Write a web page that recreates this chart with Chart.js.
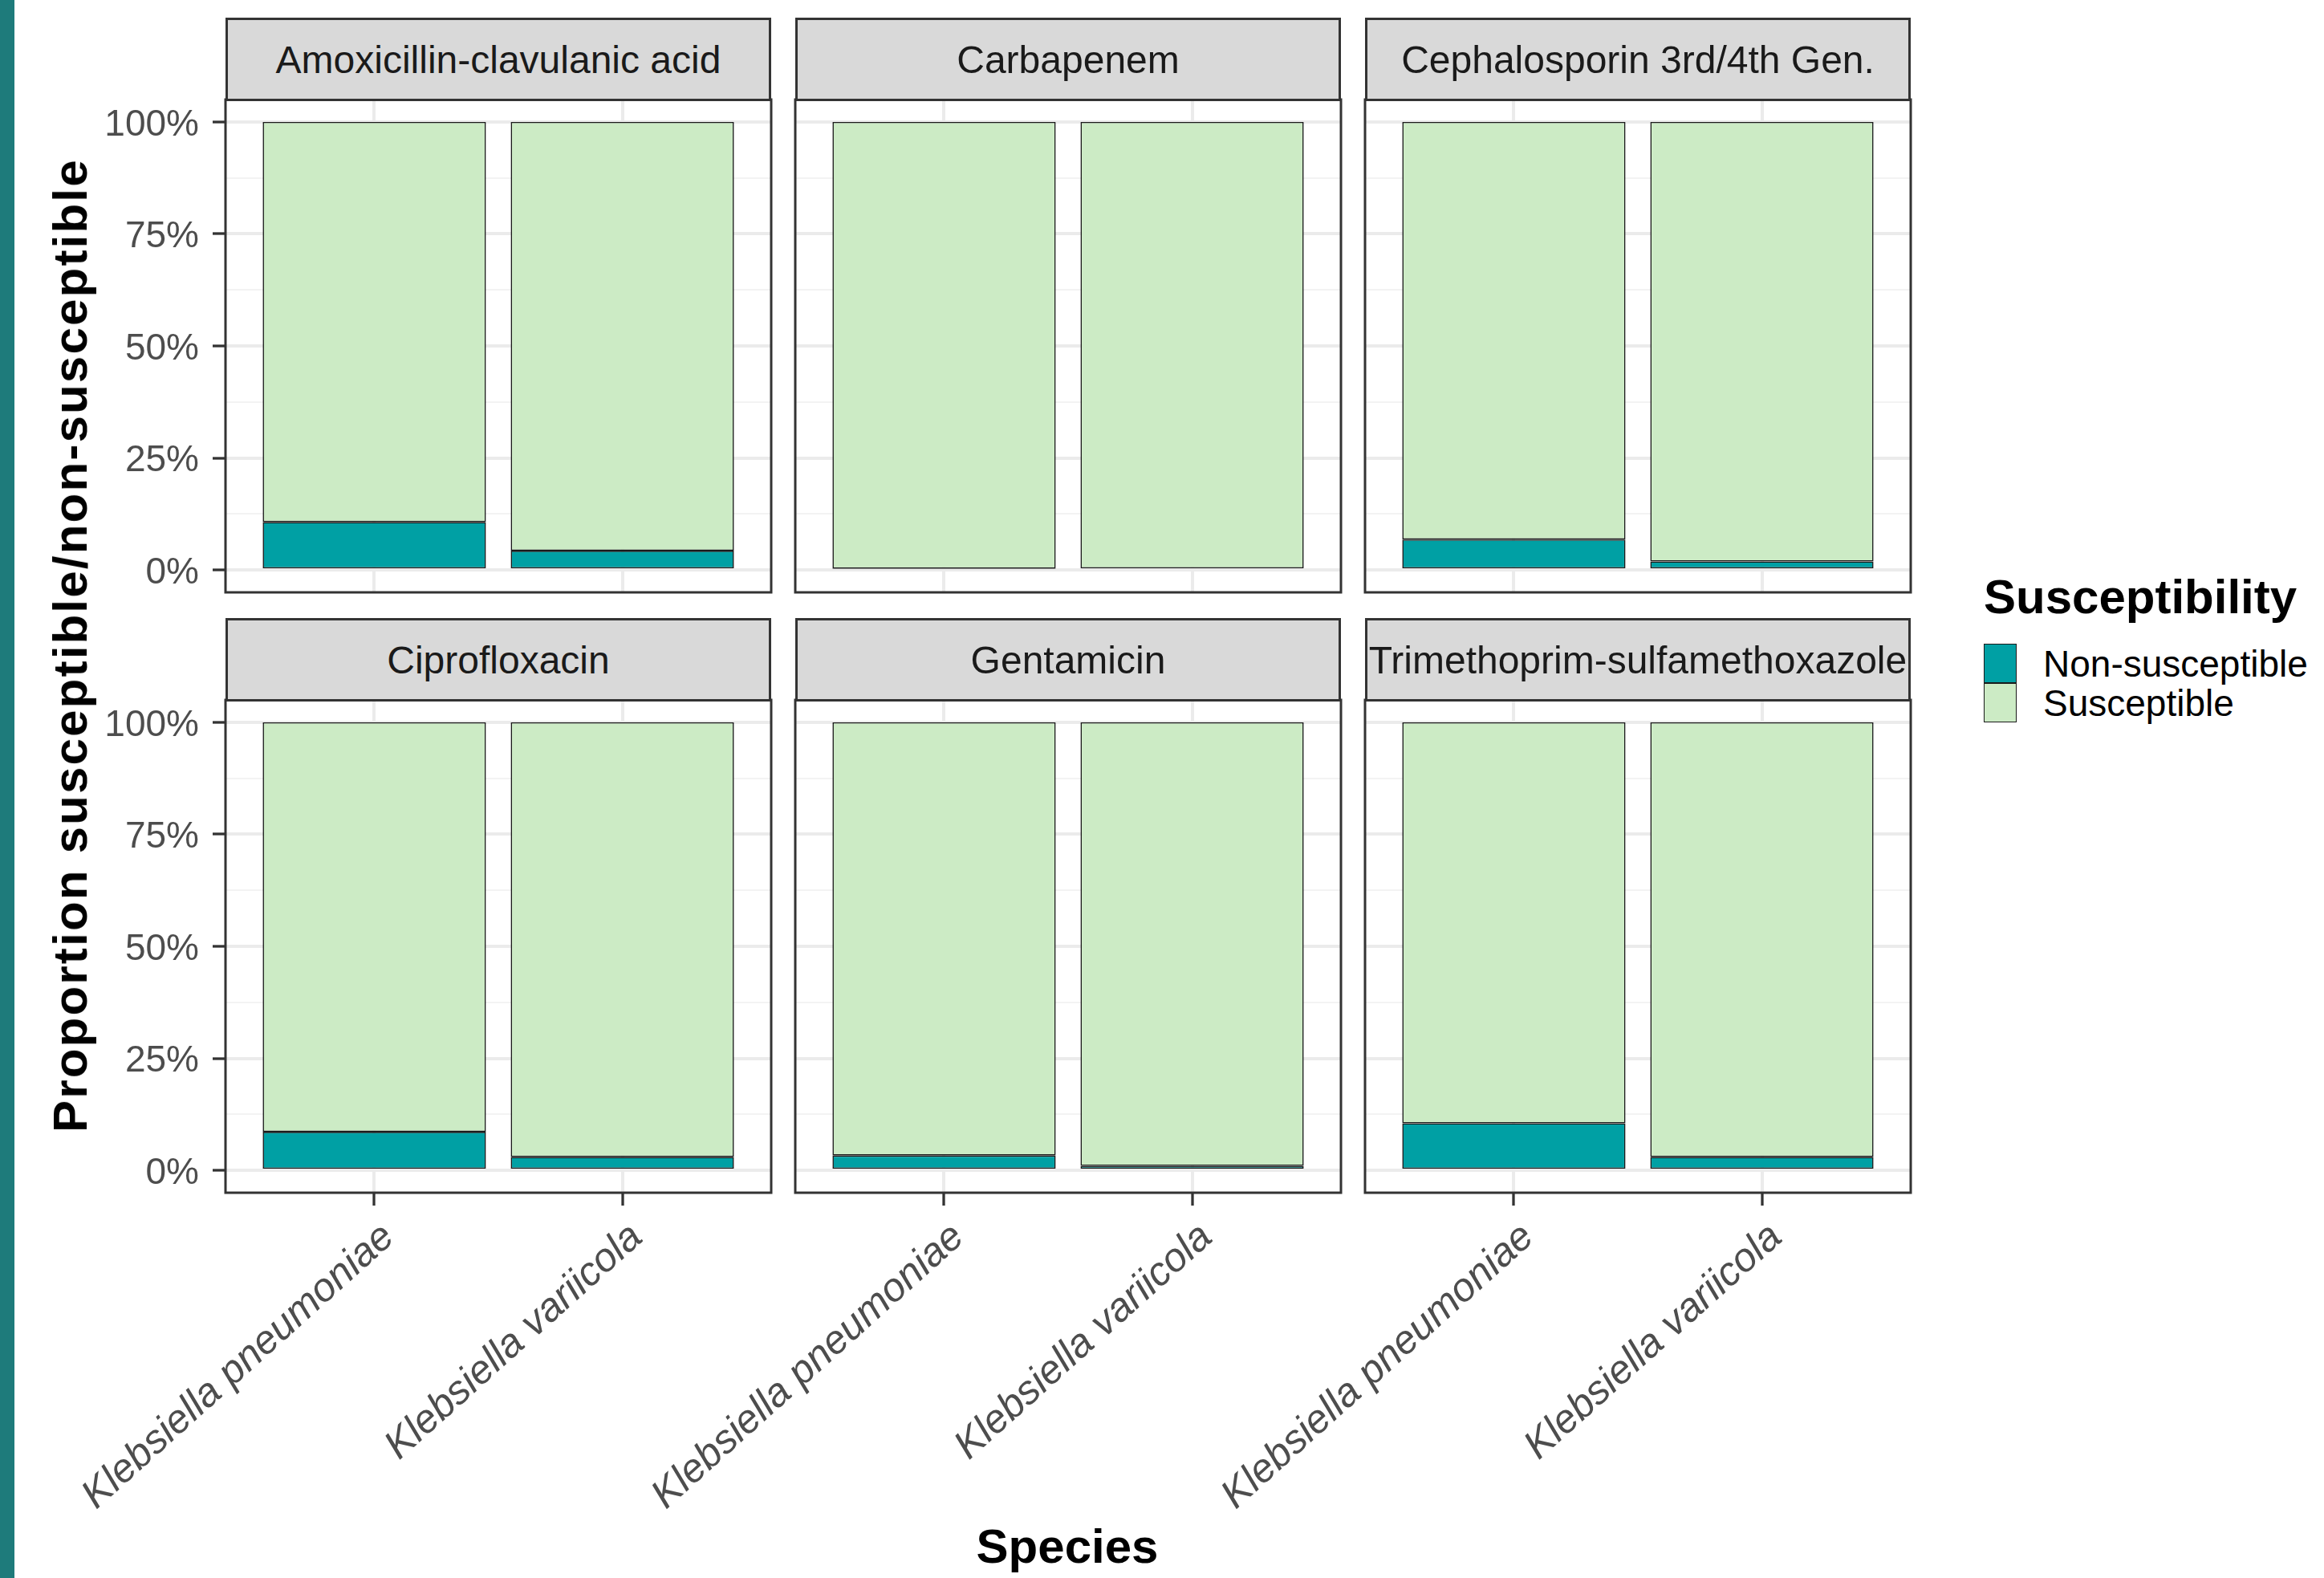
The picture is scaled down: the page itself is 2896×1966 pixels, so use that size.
<!DOCTYPE html>
<html lang="en">
<head>
<meta charset="UTF-8" />
<title>Susceptibility by species and antibiotic</title>
<script src="https://cdn.jsdelivr.net/npm/chart.js"></script>
<style>
  body { margin: 0; width: 2896px; height: 1966px; background: #fff; position: relative; overflow: hidden;
         font-family: "Liberation Sans", Arial, sans-serif; }
  canvas { position: absolute; }
  #edge { position: absolute; left: 0; top: 0; width: 18px; height: 1966px; background: #1E7B7B; z-index: 5; }
  .strip { position: absolute; box-sizing: border-box; background: #D9D9D9; border: 3px solid #333;
           display: flex; align-items: center; justify-content: center; font-size: 48px; color: #1A1A1A;
           white-space: nowrap; z-index: 2; }
  .title { position: absolute; font-weight: bold; font-size: 60px; line-height: 60px; color: #000; white-space: nowrap; z-index: 3; }
  #ytitle { left: 88px; top: 804px; transform: translate(-50%, -50%) rotate(-90deg); letter-spacing: 2.2px; }
  #xtitle { left: 1330px; top: 1897px; transform: translateX(-50%); }
  #legend { position: absolute; left: 2472px; top: 714px; z-index: 3; }
  #legend .title { position: static; margin-bottom: 28px; }
  .key-row { display: flex; align-items: center; height: 49px; }
  .key { box-sizing: border-box; width: 41px; height: 49px; border: 1.5px solid #1a1a1a; margin-right: 33px; }
  .key-label { font-size: 46px; color: #000; white-space: nowrap; }
</style>
</head>
<body>
<div id="edge"></div>
<div id="ytitle" class="title">Proportion susceptible/non-susceptible</div>
<div id="xtitle" class="title">Species</div>
<div id="legend"><div class="title">Susceptibility</div></div>

<script>
  // facet panels (antibiotics) and x categories
  const drugs = [
    'Amoxicillin-clavulanic acid', 'Carbapenem', 'Cephalosporin 3rd/4th Gen.',
    'Ciprofloxacin', 'Gentamicin', 'Trimethoprim-sulfamethoxazole'
  ];
  const species = ['Klebsiella pneumoniae', 'Klebsiella variicola'];

  // percent of isolates, one value per drug
  const nonSuscPneumoniae = [10.7, 0.3, 6.8, 8.6, 3.3, 10.5];
  const nonSuscVariicola  = [4.3, 0.0, 1.9, 3.0, 1.0, 3.0];
  const suscPneumoniae    = [89.3, 99.7, 93.2, 91.4, 96.7, 89.5];
  const suscVariicola     = [95.7, 100.0, 98.1, 97.0, 99.0, 97.0];

  const seriesNames = ['Non-susceptible', 'Susceptible'];
  const seriesColors = ['#00A0A4', '#CCEBC5'];

  const yTicks = [0, 25, 50, 75, 100];
  const yMinorTicks = [12.5, 37.5, 62.5, 87.5];

  // layout (px)
  const panelLeft = [281, 991, 1701];
  const panelTop = [124, 872];
  const panelW = 680, panelH = 614, stripH = 102;
  const yAxisW = 300, xAxisH = 440, padX = 4, padY = 52;
  const FONT = '"Liberation Sans", Arial, sans-serif';

  const panelBorder = {
    id: 'panelBorder',
    afterDraw(chart) {
      const { ctx, chartArea: a } = chart;
      ctx.save();
      ctx.strokeStyle = '#333333';
      ctx.lineWidth = 3;
      ctx.strokeRect(a.left, a.top, a.right - a.left, a.bottom - a.top);
      ctx.restore();
    }
  };

  const isMajor = v => yTicks.includes(v);

  drugs.forEach((drug, i) => {
    const r = Math.floor(i / 3), c = i % 3;
    const bottomRow = r === 1, leftCol = c === 0;

    const strip = document.createElement('div');
    strip.className = 'strip';
    strip.textContent = drug;
    Object.assign(strip.style, {
      left: panelLeft[c] + 'px', top: (panelTop[r] - stripH) + 'px',
      width: panelW + 'px', height: (stripH + 2) + 'px'
    });
    document.body.appendChild(strip);

    const cv = document.createElement('canvas');
    cv.width = yAxisW + panelW + 2 * padX;
    cv.height = panelH + (bottomRow ? xAxisH : 0) + 2 * padY;
    cv.style.left = (panelLeft[c] - yAxisW - padX) + 'px';
    cv.style.top = (panelTop[r] - padY) + 'px';
    document.body.insertBefore(cv, document.body.firstChild);

    new Chart(cv, {
      type: 'bar',
      data: {
        datasets: [
          { label: seriesNames[0], backgroundColor: seriesColors[0],
            data: [{ x: 1, y: nonSuscPneumoniae[i] }, { x: 2, y: nonSuscVariicola[i] }] },
          { label: seriesNames[1], backgroundColor: seriesColors[1],
            data: [{ x: 1, y: suscPneumoniae[i] }, { x: 2, y: suscVariicola[i] }] }
        ]
      },
      options: {
        responsive: false,
        animation: false,
        layout: { padding: { left: padX, right: padX, top: padY, bottom: padY } },
        datasets: {
          bar: { barPercentage: 0.9, categoryPercentage: 1, borderColor: '#1a1a1a',
                 borderWidth: 1.6, borderSkipped: false }
        },
        plugins: { legend: { display: false }, tooltip: { enabled: false } },
        scales: {
          x: {
            type: 'linear', min: 0.4, max: 2.6, offset: false, stacked: true,
            afterBuildTicks: s => { s.ticks = species.map((_, k) => ({ value: k + 1 })); },
            afterFit: s => { s.height = bottomRow ? xAxisH : 0; },
            border: { display: false },
            grid: { offset: false, color: '#EBEBEB', lineWidth: 4, drawTicks: bottomRow,
                    tickLength: 16, tickWidth: 3.3, tickColor: '#333333' },
            ticks: { display: bottomRow, autoSkip: false, minRotation: 42, maxRotation: 42,
                     padding: 10, labelOffset: 18, color: '#4D4D4D',
                     font: { family: FONT, size: 50, style: 'italic' },
                     callback: v => species[v - 1] }
          },
          y: {
            min: -5, max: 105, stacked: true,
            afterBuildTicks: s => {
              s.ticks = yTicks.concat(yMinorTicks).sort((a, b) => a - b).map(v => ({ value: v }));
            },
            afterFit: s => { s.width = yAxisW; },
            border: { display: false },
            grid: {
              color: ctx => (ctx.tick && isMajor(ctx.tick.value)) ? '#EBEBEB' : '#F3F3F3',
              lineWidth: ctx => (ctx.tick && isMajor(ctx.tick.value)) ? 4 : 2,
              drawTicks: true, tickLength: 16, tickWidth: 3.3,
              tickColor: ctx => (leftCol && ctx.tick && isMajor(ctx.tick.value)) ? '#333333' : 'rgba(0,0,0,0)'
            },
            ticks: { display: leftCol, padding: 17, labelOffset: 4, color: '#4D4D4D',
                     font: { family: FONT, size: 46 },
                     callback: v => isMajor(v) ? v + '%' : '' }
          }
        }
      },
      plugins: [panelBorder]
    });
  });

  // legend
  const legend = document.getElementById('legend');
  seriesNames.forEach((name, k) => {
    const row = document.createElement('div');
    row.className = 'key-row';
    const key = document.createElement('div');
    key.className = 'key';
    key.style.background = seriesColors[k];
    const label = document.createElement('div');
    label.className = 'key-label';
    label.textContent = name;
    row.appendChild(key);
    row.appendChild(label);
    legend.appendChild(row);
  });
</script>
</body>
</html>
